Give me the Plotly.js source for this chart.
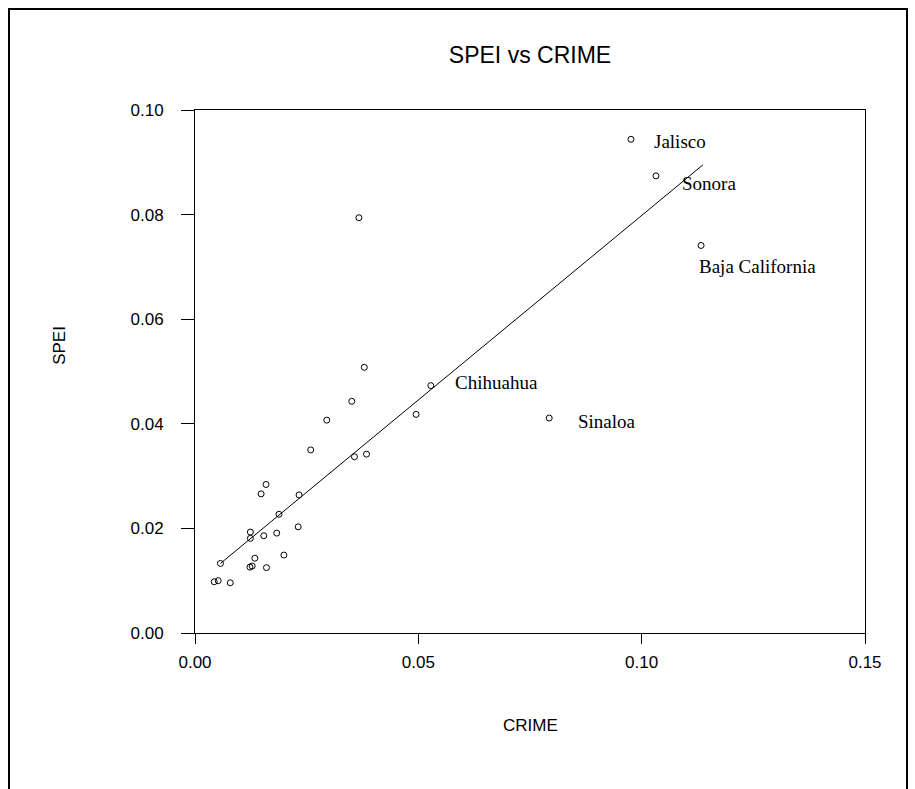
<!DOCTYPE html>
<html>
<head>
<meta charset="utf-8">
<script src="https://cdn.plot.ly/plotly-3.0.1.min.js"></script>
<style>
  html, body { margin: 0; padding: 0; background: #ffffff; }
  #wrap { position: relative; width: 915px; height: 789px; overflow: hidden; }
  #frame { position: absolute; left: 8px; top: 8px; width: 896px; height: 800px;
           border-top: 2px solid #000; border-left: 2px solid #000; border-right: 2px solid #000;
           pointer-events: none; z-index: 5; }
  #chart { position: absolute; left: 0; top: 0; width: 915px; height: 789px; }
</style>
</head>
<body>
<div id="wrap">
  <div id="chart"></div>
  <div id="frame"></div>
</div>
<script>
var stateNames = ['Jalisco', 'Sonora', 'Baja California', 'Chihuahua', 'Sinaloa',
  '', '', '', '', '', '', '', '', '', '', '', '', '', '', '', '', '', '', '', '', '', '', '', '', '', ''];
var crime = [0.0976, 0.1032, 0.1133, 0.0528, 0.0793,
  0.0367, 0.0379, 0.0351, 0.0295, 0.0495, 0.0259, 0.0357, 0.0384,
  0.0159, 0.0148, 0.0233, 0.0188, 0.0124, 0.0124, 0.0154, 0.0183,
  0.0231, 0.0057, 0.0134, 0.0199, 0.0123, 0.0128, 0.0160, 0.0043,
  0.0052, 0.0079];
var spei = [0.0944, 0.0874, 0.0741, 0.0473, 0.0411,
  0.0794, 0.0508, 0.0443, 0.0407, 0.0418, 0.0350, 0.0337, 0.0342,
  0.0284, 0.0266, 0.0264, 0.0227, 0.0193, 0.0181, 0.0186, 0.0191,
  0.0203, 0.0133, 0.0143, 0.0149, 0.0126, 0.0128, 0.0125, 0.0098,
  0.0100, 0.0096];

// Fitted regression line end points
var fitCrime = [0.0057, 0.1137];
var fitSpei = [0.0133, 0.0895];

// Labelled states and label offsets (pixels) relative to their points
var labelled = ['Jalisco', 'Sonora', 'Baja California', 'Chihuahua', 'Sinaloa'];
var labelDx = [21, 24, -4, 22, 27];
var labelDy = [-2, -8, -21, 3, -3];

var xTicks = [0.00, 0.05, 0.10, 0.15];
var xTickText = ['0.00', '0.05', '0.10', '0.15'];
var yTicks = [0.00, 0.02, 0.04, 0.06, 0.08, 0.10];
var yTickText = ['0.00', '0.02', '0.04', '0.06', '0.08', '0.10'];

var traces = [
  {
    x: fitCrime, y: fitSpei, type: 'scatter', mode: 'lines',
    line: { color: '#000000', width: 1 }, hoverinfo: 'skip', showlegend: false
  },
  {
    x: crime, y: spei, text: stateNames, type: 'scatter', mode: 'markers',
    marker: { symbol: 'circle-open', size: 6, color: '#000000', line: { width: 1, color: '#000000' } },
    showlegend: false
  }
];

var annotations = labelled.map(function (name, i) {
  var k = stateNames.indexOf(name);
  return {
    x: crime[k], y: spei[k], xref: 'x', yref: 'y',
    text: name, showarrow: false, xanchor: 'left', yanchor: 'middle',
    xshift: labelDx[i], yshift: labelDy[i],
    font: { family: 'Liberation Serif, Times New Roman, serif', size: 19, color: '#000000' }
  };
});

annotations.push({
  text: 'CRIME', xref: 'paper', yref: 'paper', x: 0.5, y: -0.176,
  xanchor: 'center', yanchor: 'middle', showarrow: false,
  font: { family: 'Liberation Sans, Arial, sans-serif', size: 17, color: '#000000' }
});
annotations.push({
  text: 'SPEI', xref: 'paper', yref: 'paper', x: -0.2015, y: 0.551,
  xanchor: 'center', yanchor: 'middle', showarrow: false, textangle: -90,
  font: { family: 'Liberation Sans, Arial, sans-serif', size: 17, color: '#000000' }
});

var layout = {
  width: 915, height: 789,
  margin: { l: 195, r: 50, t: 110, b: 156, pad: 0 },
  paper_bgcolor: '#ffffff', plot_bgcolor: '#ffffff',
  title: {
    text: 'SPEI vs CRIME', x: 0.5, xref: 'paper', xanchor: 'center',
    y: 0.930, yref: 'container', yanchor: 'middle',
    font: { family: 'Liberation Sans, Arial, sans-serif', size: 23, color: '#000000' }
  },
  xaxis: {
    range: [0, 0.15], tickvals: xTicks, ticktext: xTickText,
    showgrid: false, zeroline: false, showline: true, mirror: true,
    linecolor: '#000000', linewidth: 1,
    ticks: 'outside', ticklen: 10, tickwidth: 1, tickcolor: '#000000',
    ticklabelstandoff: 4,
    tickfont: { family: 'Liberation Sans, Arial, sans-serif', size: 17, color: '#000000' }
  },
  yaxis: {
    range: [0, 0.10], tickvals: yTicks, ticktext: yTickText,
    showgrid: false, zeroline: false, showline: true, mirror: true,
    linecolor: '#000000', linewidth: 1,
    ticks: 'outside', ticklen: 13, tickwidth: 1, tickcolor: '#000000',
    ticklabelstandoff: 14,
    tickfont: { family: 'Liberation Sans, Arial, sans-serif', size: 17, color: '#000000' }
  },
  annotations: annotations,
  showlegend: false
};

Plotly.newPlot('chart', traces, layout, { displayModeBar: false, staticPlot: true });
</script>
</body>
</html>
